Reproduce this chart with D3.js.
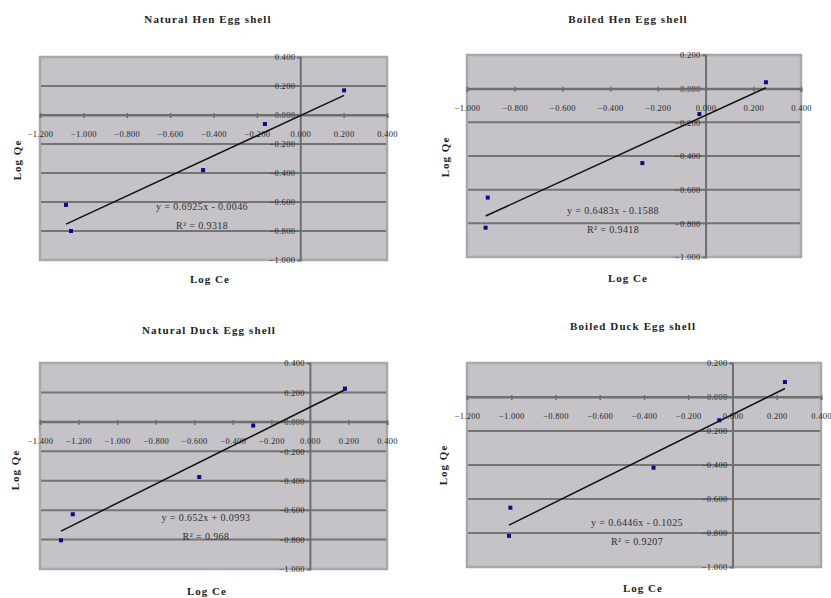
<!DOCTYPE html>
<html>
<head>
<meta charset="utf-8">
<script src="https://cdn.jsdelivr.net/npm/d3@7"></script>
<style>
  body { margin: 0; background: #fff; }
  text { font-family: "Liberation Serif", "DejaVu Serif", serif; }
</style>
</head>
<body>
<svg width="831" height="598"></svg>
<script>
// chart data
const titles = ['Natural Hen Egg shell', 'Boiled Hen Egg shell', 'Natural Duck Egg shell', 'Boiled Duck Egg shell'];

const henNaturalX = [-1.080, -1.057, -0.448, -0.163, 0.202];
const henNaturalY = [-0.620, -0.800, -0.380, -0.062, 0.170];
const henBoiledX = [-0.913, -0.922, -0.265, -0.026, 0.253];
const henBoiledY = [-0.647, -0.826, -0.442, -0.151, 0.038];
const duckNaturalX = [-1.291, -1.230, -0.574, -0.294, 0.182];
const duckNaturalY = [-0.805, -0.628, -0.375, -0.025, 0.226];
const duckBoiledX = [-1.004, -1.010, -0.357, -0.060, 0.237];
const duckBoiledY = [-0.651, -0.817, -0.416, -0.137, 0.088];

// trendline coefficients as printed on the chart
const slopes = [0.6925, 0.6483, 0.652, 0.6446];
const intercepts = [-0.0046, -0.1588, 0.0993, -0.1025];
const rSquared = ['0.9318', '0.9418', '0.968', '0.9207'];

const xDomains = [[-1.2, 0.4], [-1.0, 0.4], [-1.4, 0.4], [-1.2, 0.4]];
const yDomains = [[-1.0, 0.4], [-1.0, 0.2], [-1.0, 0.4], [-1.0, 0.2]];

// layout for each panel (plot box, title / label / equation spots)
const layout = [
  {x0: 40, y0: 57, x1: 387, y1: 260, tx: 208, ty: 23, lx: 210, ly: 283, qx: 17, qy: 160, ex: 202, ey: 210},
  {x0: 467, y0: 55, x1: 801, y1: 257, tx: 628, ty: 23, lx: 628, ly: 282, qx: 445, qy: 157, ex: 613, ey: 214},
  {x0: 40, y0: 363, x1: 387, y1: 569, tx: 209, ty: 334, lx: 207, ly: 595, qx: 15, qy: 470, ex: 206, ey: 521},
  {x0: 467, y0: 363, x1: 821, y1: 567, tx: 633, ty: 330, lx: 643, ly: 592, qx: 443, qy: 465, ex: 637, ey: 526}
];

const seriesX = [henNaturalX, henBoiledX, duckNaturalX, duckBoiledX];
const seriesY = [henNaturalY, henBoiledY, duckNaturalY, duckBoiledY];

const svg = d3.select('svg');
const fmt = d3.format('.3f');
const tickFmt = v => Math.abs(v) < 1e-9 ? '0.000' : fmt(v);

titles.forEach((title, i) => {
  const L = layout[i];
  const g = svg.append('g');

  const xScale = d3.scaleLinear().domain(xDomains[i]).range([L.x0, L.x1]);
  const yScale = d3.scaleLinear().domain(yDomains[i]).range([L.y1, L.y0]);
  const xTicks = d3.range(xDomains[i][0], xDomains[i][1] + 0.001, 0.2);
  const yTicks = d3.range(yDomains[i][0], yDomains[i][1] + 0.001, 0.2);

  // plot area
  g.append('rect')
    .attr('x', L.x0).attr('y', L.y0)
    .attr('width', L.x1 - L.x0).attr('height', L.y1 - L.y0)
    .attr('fill', '#c5c3c8')
    .attr('stroke', '#a9a7ab')
    .attr('stroke-width', 2.5);

  // horizontal gridlines
  g.selectAll('.grid')
    .data(yTicks.slice(1, -1))
    .enter()
    .append('line')
      .attr('x1', L.x0 + 1).attr('x2', L.x1 - 1)
      .attr('y1', d => yScale(d)).attr('y2', d => yScale(d))
      .attr('stroke', '#747474')
      .attr('stroke-width', 2);

  // vertical axis at x = 0
  const yAxis = d3.axisLeft(yScale).tickValues(yTicks).tickFormat(tickFmt).tickSize(3).tickPadding(2);
  const ya = g.append('g')
    .attr('transform', `translate(${xScale(0)},0)`)
    .call(yAxis);
  ya.select('.domain').attr('stroke', '#6e6e6e').attr('stroke-width', 2);
  ya.selectAll('.tick line').attr('stroke', '#6e6e6e');
  ya.selectAll('.tick text')
    .attr('font-size', 8.5)
    .attr('letter-spacing', 0.3)
    .attr('fill', '#262626');

  // horizontal axis at y = 0
  const xAxis = d3.axisBottom(xScale).tickValues(xTicks).tickFormat(tickFmt).tickSize(3).tickPadding(13);
  const xa = g.append('g')
    .attr('transform', `translate(0,${yScale(0)})`)
    .call(xAxis);
  xa.select('.domain').attr('stroke', '#6e6e6e').attr('stroke-width', 2);
  xa.selectAll('.tick line').attr('stroke', '#6e6e6e').attr('stroke-width', 1.5).attr('y1', -2);
  xa.selectAll('.tick text')
    .attr('font-size', 8.5)
    .attr('letter-spacing', 0.3)
    .attr('fill', '#262626');

  // linear trendline over the data range
  const xs = seriesX[i];
  const ext = d3.extent(xs);
  g.append('line')
    .attr('x1', xScale(ext[0])).attr('y1', yScale(slopes[i] * ext[0] + intercepts[i]))
    .attr('x2', xScale(ext[1])).attr('y2', yScale(slopes[i] * ext[1] + intercepts[i]))
    .attr('stroke', '#111')
    .attr('stroke-width', 1.5);

  // points
  g.selectAll('.pt')
    .data(xs.map((x, j) => [x, seriesY[i][j]]))
    .enter()
    .append('rect')
      .attr('x', d => xScale(d[0]) - 2)
      .attr('y', d => yScale(d[1]) - 2)
      .attr('width', 4).attr('height', 4)
      .attr('fill', '#0a0a8a');

  // equation text
  const sign = intercepts[i] < 0 ? '-' : '+';
  g.append('text')
    .attr('x', L.ex).attr('y', L.ey)
    .attr('text-anchor', 'middle')
    .attr('font-size', 10)
    .attr('letter-spacing', 0.4)
    .attr('fill', '#2e2e2e')
    .text(`y = ${slopes[i]}x ${sign} ${Math.abs(intercepts[i])}`);
  g.append('text')
    .attr('x', L.ex).attr('y', L.ey + 19)
    .attr('text-anchor', 'middle')
    .attr('font-size', 10)
    .attr('letter-spacing', 0.4)
    .attr('fill', '#2e2e2e')
    .text(`R² = ${rSquared[i]}`);

  // title and axis titles
  g.append('text')
    .attr('x', L.tx).attr('y', L.ty)
    .attr('text-anchor', 'middle')
    .attr('font-size', 11)
    .attr('font-weight', 'bold')
    .attr('letter-spacing', 1.1)
    .attr('fill', '#222')
    .text(title);
  g.append('text')
    .attr('x', L.lx).attr('y', L.ly)
    .attr('text-anchor', 'middle')
    .attr('font-size', 11)
    .attr('font-weight', 'bold')
    .attr('letter-spacing', 1)
    .attr('fill', '#222')
    .text('Log Ce');
  g.append('text')
    .attr('transform', `translate(${L.qx},${L.qy}) rotate(-90)`)
    .attr('text-anchor', 'middle')
    .attr('dy', '0.35em')
    .attr('font-size', 11)
    .attr('font-weight', 'bold')
    .attr('letter-spacing', 1)
    .attr('fill', '#222')
    .text('Log Qe');
});
</script>
</body>
</html>
